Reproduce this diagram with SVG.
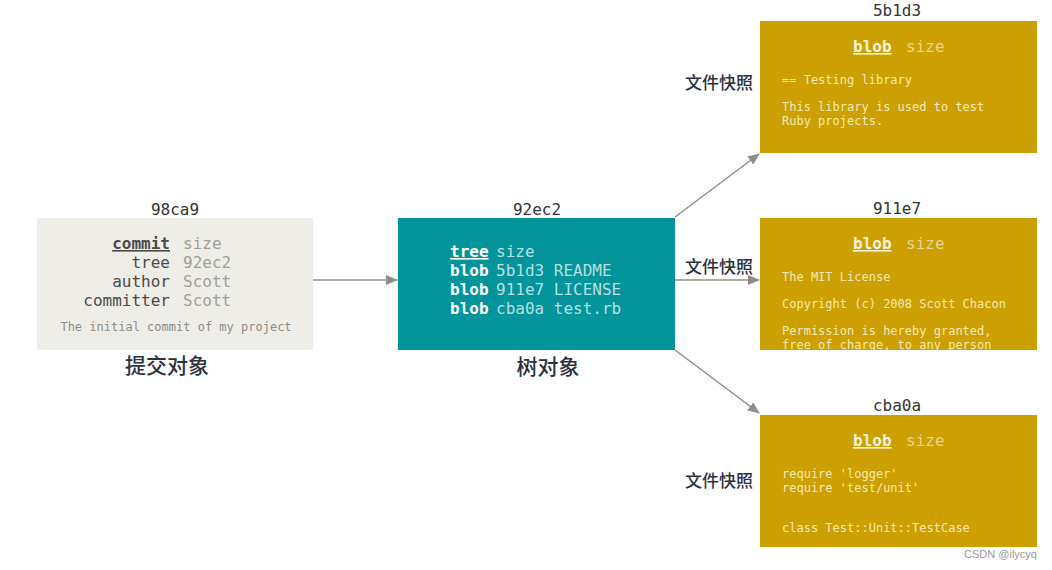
<svg xmlns="http://www.w3.org/2000/svg" width="1052" height="570" viewBox="0 0 1052 570">
<style>
.mono{font-family:"DejaVu Sans Mono","Liberation Mono",monospace}
.hash{font-family:"DejaVu Sans Mono",monospace;font-size:16px;fill:#333333;text-anchor:middle}
.zh{font-family:"Noto Sans CJK SC",sans-serif;fill:#2c3140;font-weight:500}
.ck{font-size:16px;fill:#4a4a48;text-anchor:end}
.cv{font-size:16px;fill:#a09f98}
.tk{font-size:16px;fill:#ffffff;font-weight:bold}
.tv{font-size:16px;fill:#b8dfe0}
.bh{font-size:16px;fill:#fbf3dc;font-weight:bold;text-decoration:underline}
.bs{font-size:16px;fill:#e8d391}
.bt{font-size:12px;fill:#f6e8b8}
.conn{stroke:#8f8d86;stroke-width:1.5;fill:none;marker-end:url(#ah)}
</style>
<defs>
<marker id="ah" markerWidth="12" markerHeight="10" refX="11" refY="5" orient="auto" markerUnits="userSpaceOnUse">
<path d="M0,0 L12,5 L0,10 Z" fill="#8f8d86"/>
</marker>
<clipPath id="c2"><rect x="760" y="218" width="277" height="132"/></clipPath>
</defs>
<rect width="1052" height="570" fill="#ffffff"/>
<g id="connectors">
<line class="conn" x1="313" y1="280" x2="397" y2="280"/>
<line class="conn" x1="675" y1="217" x2="759" y2="154"/>
<line class="conn" x1="675" y1="280" x2="759" y2="280"/>
<line class="conn" x1="675" y1="350" x2="759" y2="413"/>
</g>
<g id="commit">
<text class="hash" x="175" y="215">98ca9</text>
<rect x="37" y="218" width="276" height="132" fill="#eeede7"/>
<text class="mono ck" x="170" y="249" font-weight="bold" text-decoration="underline">commit</text>
<text class="mono cv" x="183" y="249">size</text>
<text class="mono ck" x="170" y="268">tree</text>
<text class="mono cv" x="183" y="268">92ec2</text>
<text class="mono ck" x="170" y="287">author</text>
<text class="mono cv" x="183" y="287">Scott</text>
<text class="mono ck" x="170" y="306">committer</text>
<text class="mono cv" x="183" y="306">Scott</text>
<text class="mono" x="176" y="331" font-size="12" fill="#8e8d87" text-anchor="middle">The initial commit of my project</text>
<text class="zh" x="167" y="373" font-size="21" text-anchor="middle">提交对象</text>
</g>
<g id="tree">
<text class="hash" x="537" y="215">92ec2</text>
<rect x="398" y="218" width="277" height="132" fill="#01949b"/>
<text class="mono tk" x="450" y="257" text-decoration="underline">tree</text>
<text class="mono tv" x="496" y="257">size</text>
<text class="mono tk" x="450" y="276">blob</text>
<text class="mono tv" x="496" y="276">5b1d3 README</text>
<text class="mono tk" x="450" y="295">blob</text>
<text class="mono tv" x="496" y="295">911e7 LICENSE</text>
<text class="mono tk" x="450" y="314">blob</text>
<text class="mono tv" x="496" y="314">cba0a test.rb</text>
<text class="zh" x="548" y="374" font-size="21" text-anchor="middle">树对象</text>
</g>
<g id="blob1">
<text class="hash" x="897" y="16">5b1d3</text>
<rect x="760" y="21" width="277" height="132" fill="#cca000"/>
<text class="mono bh" x="853" y="52">blob</text>
<text class="mono bs" x="906" y="52">size</text>
<text class="mono bt" x="782" y="84">== Testing library</text>
<text class="mono bt" x="782" y="111">This library is used to test</text>
<text class="mono bt" x="782" y="125">Ruby projects.</text>
<text class="zh" x="719" y="89" font-size="17" text-anchor="middle">文件快照</text>
</g>
<g id="blob2">
<text class="hash" x="897" y="214">911e7</text>
<rect x="760" y="218" width="277" height="132" fill="#cca000"/>
<text class="mono bh" x="853" y="249">blob</text>
<text class="mono bs" x="906" y="249">size</text>
<g clip-path="url(#c2)">
<text class="mono bt" x="782" y="281">The MIT License</text>
<text class="mono bt" x="782" y="308">Copyright (c) 2008 Scott Chacon</text>
<text class="mono bt" x="782" y="335">Permission is hereby granted,</text>
<text class="mono bt" x="782" y="349">free of charge, to any person</text>
</g>
<text class="zh" x="719" y="273" font-size="17" text-anchor="middle">文件快照</text>
</g>
<g id="blob3">
<text class="hash" x="897" y="411">cba0a</text>
<rect x="760" y="415" width="277" height="132" fill="#cca000"/>
<text class="mono bh" x="853" y="446">blob</text>
<text class="mono bs" x="906" y="446">size</text>
<text class="mono bt" x="782" y="478">require 'logger'</text>
<text class="mono bt" x="782" y="492">require 'test/unit'</text>
<text class="mono bt" x="782" y="532">class Test::Unit::TestCase</text>
<text class="zh" x="719" y="487" font-size="17" text-anchor="middle">文件快照</text>
</g>
<text x="1037" y="558" font-family="Liberation Sans,sans-serif" font-size="11" fill="#9a9a9a" text-anchor="end">CSDN @ilycyq</text>
</svg>
